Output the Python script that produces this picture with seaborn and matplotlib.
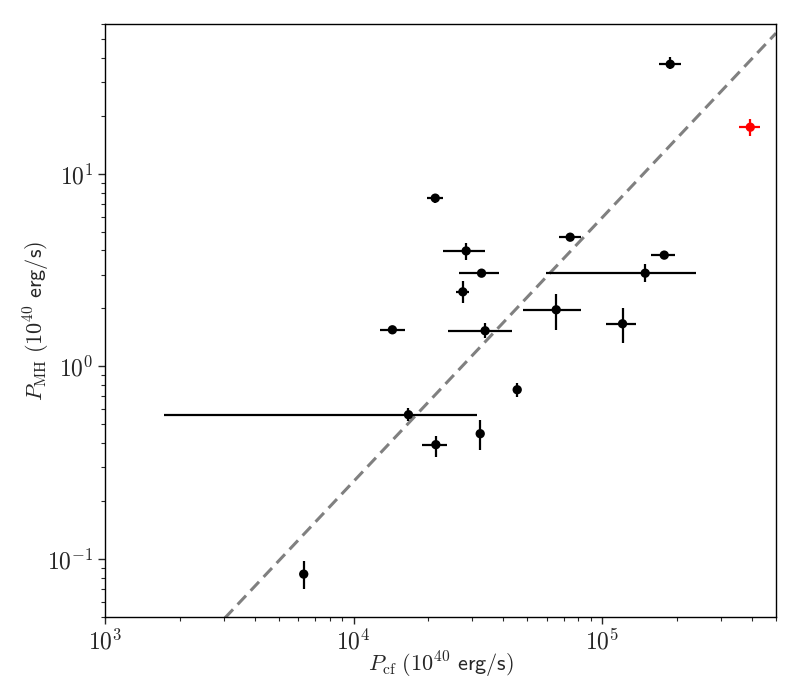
import numpy as np
import pandas as pd
import matplotlib
matplotlib.use("Agg")
import matplotlib.pyplot as plt
import matplotlib.ticker as mticker
import seaborn as sns

# ---- data ----
p_cf = [1.877e5, 3.94e5, 2.13e4, 2.836e4, 7.43e4, 3.27e4, 2.75e4, 1.776e5, 1.489e5,
        6.53e4, 1.207e5, 1.432e4, 3.38e4, 1.662e4, 3.23e4, 2.142e4, 4.55e4, 6.30e3]
p_cf_lo = [1.685e5, 3.54e5, 1.97e4, 2.298e4, 6.71e4, 2.66e4, 2.585e4, 1.575e5, 5.95e4,
           4.78e4, 1.031e5, 1.279e4, 2.40e4, 1.727e3, 3.20e4, 1.892e4, 4.50e4, 6.25e3]
p_cf_hi = [2.079e5, 4.32e5, 2.29e4, 3.38e4, 8.23e4, 3.84e4, 2.916e4, 1.967e5, 2.384e5,
           8.23e4, 1.37e5, 1.607e4, 4.33e4, 3.13e4, 3.26e4, 2.385e4, 4.60e4, 6.35e3]
p_mh = [37.1, 17.47, 7.48, 3.98, 4.69, 3.05, 2.44, 3.785, 3.05,
        1.969, 1.666, 1.55, 1.532, 0.5615, 0.4475, 0.3925, 0.757, 0.0835]
p_mh_lo = [35.1, 15.8, 7.1, 3.55, 4.50, 2.93, 2.13, 3.63, 2.76,
           1.537, 1.323, 1.49, 1.404, 0.523, 0.3665, 0.3387, 0.69, 0.0702]
p_mh_hi = [40.3, 19.3, 7.85, 4.40, 4.88, 3.17, 2.785, 3.94, 3.41,
           2.385, 2.016, 1.61, 1.69, 0.611, 0.529, 0.433, 0.82, 0.098]
point_color = ['black', 'red'] + ['black'] * 16

# power-law relation shown as dashed line
fit_norm = 0.253      # P_MH at P_cf = 1e4
fit_slope = 1.37
x_limits = [1e3, 5e5]
y_limits = [0.05, 60]

# ---- style ----
sns.set_style("white")
plt.rcParams['mathtext.fontset'] = 'cm'
plt.rcParams['font.family'] = ['DejaVu Sans']

fig = plt.figure(figsize=(8, 7), dpi=100)
ax = fig.add_axes([105/800, 1-617/700, (776-105)/800, (617-24)/700])

df = pd.DataFrame({'x': p_cf, 'y': p_mh, 'c': point_color})

# dashed relation line
xl = np.logspace(np.log10(x_limits[0]), np.log10(x_limits[1]), 200)
yl = fit_norm * (xl / 1e4) ** fit_slope
sns.lineplot(x=xl, y=yl, ax=ax, color='grey', lw=2.2, linestyle=(0, (4, 2.2)), zorder=1)

x = np.array(p_cf); y = np.array(p_mh)
xerr = np.array([x - np.array(p_cf_lo), np.array(p_cf_hi) - x])
yerr = np.array([y - np.array(p_mh_lo), np.array(p_mh_hi) - y])
for i in range(len(x)):
    ax.errorbar(x[i], y[i], xerr=xerr[:, i:i+1], yerr=yerr[:, i:i+1], fmt='none',
                ecolor=point_color[i], elinewidth=1.6, capsize=0, zorder=2)
sns.scatterplot(data=df, x='x', y='y', hue='c', palette={'black': 'black', 'red': 'red'},
                s=45, edgecolor='none', legend=False, ax=ax, zorder=3)

ax.set_xscale('log')
ax.set_yscale('log')
ax.set_xlim(x_limits)
ax.set_ylim(y_limits)

def pow_fmt(v, pos):
    e = int(round(np.log10(v)))
    if abs(np.log10(v) - e) > 1e-6:
        return ''
    return r'$10^{%d}$' % e

for axis in (ax.xaxis, ax.yaxis):
    axis.set_major_locator(mticker.LogLocator(base=10))
    axis.set_major_formatter(mticker.FuncFormatter(pow_fmt))
    axis.set_minor_formatter(mticker.NullFormatter())

ax.set_xlabel(r'$P_{\rm cf}\ (10^{40}\ \mathsf{erg/s})$', fontsize=16, labelpad=-3)
ax.set_ylabel(r'$P_{\rm MH}\ (10^{40}\ \mathsf{erg/s})$', fontsize=16, labelpad=-4)
ax.tick_params(axis='both', which='major', direction='out', length=5, width=1,
               labelsize=17, bottom=True, left=True, top=False, right=False)
ax.tick_params(axis='both', which='minor', direction='out', length=3, width=0.8,
               bottom=True, left=True, top=False, right=False)
for s in ax.spines.values():
    s.set_color('black')
    s.set_linewidth(1.0)

fig.savefig('out.png', dpi=100)
